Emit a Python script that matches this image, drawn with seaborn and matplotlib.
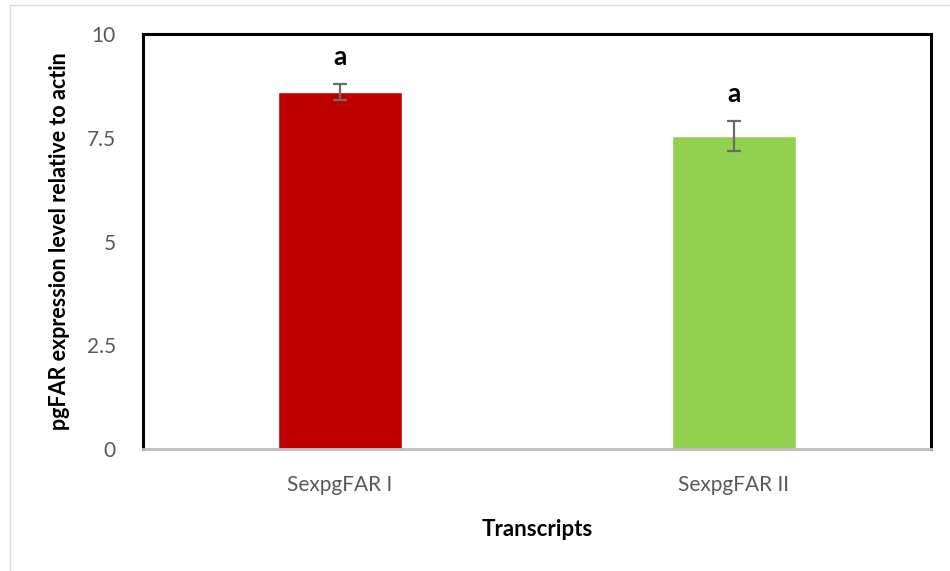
import matplotlib
matplotlib.use("Agg")
import matplotlib.pyplot as plt
from matplotlib.lines import Line2D
import seaborn as sns
import pandas as pd

# Expression data
transcripts = ["SexpgFAR I", "SexpgFAR II"]
expression = [8.6, 7.55]
errors = [0.2, 0.36]
letters = ["a", "a"]
bar_colors = ["#C00000", "#92D050"]
y_ticks = [0, 2.5, 5, 7.5, 10]
y_tick_labels = ["0", "2.5", "5", "7.5", "10"]

sns.set_theme(style="white")
plt.rcParams["font.family"] = ["Lato", "DejaVu Sans"]

df = pd.DataFrame({"Transcript": transcripts, "Expression": expression})

fig = plt.figure(figsize=(9.5, 5.71), dpi=100)
ax = fig.add_axes([143 / 950, 1 - 449 / 571, (931 - 143) / 950, (449 - 34) / 571])

sns.barplot(data=df, x="Transcript", y="Expression", hue="Transcript",
            palette=bar_colors, width=0.315, legend=False, errorbar=None,
            saturation=1, ax=ax)

positions = list(range(len(transcripts)))
ax.errorbar(positions, expression, yerr=errors, fmt="none",
            ecolor="#6b6b6b", elinewidth=1.6, capsize=5, capthick=1.6, zorder=3)

for x, m, e, t in zip(positions, expression, errors, letters):
    ax.text(x, m + e + 0.65, t, ha="center", va="center",
            fontsize=19, fontweight="bold", color="black")

ax.set_ylim(0, 10)
ax.set_xlim(-0.5, 1.5)
ax.set_yticks(y_ticks)
ax.set_yticklabels(y_tick_labels)
ax.tick_params(axis="both", length=0, labelsize=15, labelcolor="#595959")
ax.tick_params(axis="y", pad=19.5)
ax.tick_params(axis="x", pad=19)

ax.set_ylabel("pgFAR expression level relative to actin", fontsize=15.5,
              fontweight="bold", color="black", labelpad=12)
ax.set_xlabel("Transcripts", fontsize=16, fontweight="bold", color="black",
              labelpad=17)

for side in ["left", "top", "right"]:
    ax.spines[side].set_color("black")
    ax.spines[side].set_linewidth(2.2)
ax.spines["bottom"].set_color("#bfbfbf")
ax.spines["bottom"].set_linewidth(2)

# Light frame around the figure
fig.add_artist(Line2D([10 / 950, 1], [1 - 5 / 571, 1 - 5 / 571],
                      transform=fig.transFigure, color="#d9d9d9", lw=1))
fig.add_artist(Line2D([10 / 950, 10 / 950], [0, 1 - 5 / 571],
                      transform=fig.transFigure, color="#d9d9d9", lw=1))

fig.savefig("out.png", dpi=100, facecolor="white")
